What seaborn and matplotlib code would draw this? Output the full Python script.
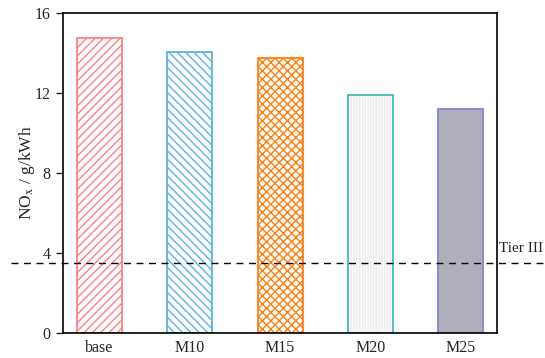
import matplotlib
matplotlib.use("Agg")
import matplotlib.pyplot as plt
import seaborn as sns

# NOx emissions per fuel blend
categories = ["base", "M10", "M15", "M20", "M25"]
nox_values = [14.75, 14.05, 13.75, 11.9, 11.2]
tier_iii_limit = 3.5
y_ticks = [0, 4, 8, 12, 16]

edge_colors = ["#FF8080", "#5AB4DE", "#FF7F0E", "#40BCBC", "#8585CC"]
face_colors = ["white", "white", "white", "#FAFAFA", "#AEAFBA"]
hatches = ["////", "\\\\\\\\", "xxxx", "||||||", ""]
hatch_colors = ["#FF8080", "#5AB4DE", "#FF7F0E", "#ECECEC", "#AEAFBA"]

sns.set_theme(style="ticks")
plt.rcParams["font.family"] = ["Liberation Serif", "DejaVu Serif"]
plt.rcParams["mathtext.fontset"] = "stix"
plt.rcParams["hatch.linewidth"] = 1.0

fig, ax = plt.subplots(figsize=(5.45, 3.58), dpi=100)
fig.subplots_adjust(left=0.116, right=0.912, top=0.964, bottom=0.07)

# hatched fills (hatch drawn in its own colour)
sns.barplot(x=categories, y=nox_values, hue=categories, palette=hatch_colors,
            legend=False, width=0.5, ax=ax, saturation=1)
for patch, fc, h, hc in zip(ax.patches, face_colors, hatches, hatch_colors):
    patch.set_facecolor(fc)
    patch.set_edgecolor(hc)
    patch.set_linewidth(0)
    patch.set_hatch(h)

# coloured outlines on top
n_fill = len(ax.patches)
sns.barplot(x=categories, y=nox_values, hue=categories, palette=edge_colors,
            legend=False, width=0.5, ax=ax, saturation=1, fill=False)
for patch, ec in zip(ax.patches[n_fill:], edge_colors):
    patch.set_facecolor("none")
    patch.set_edgecolor(ec)
    patch.set_linewidth(1.3)

ax.axhline(tier_iii_limit, color="black", linestyle=(0, (5, 4)), linewidth=1.0,
           xmin=-0.12, xmax=1.12, clip_on=False)
ax.text(1.005, (tier_iii_limit + 0.4) / 16, "Tier III", transform=ax.transAxes,
        fontsize=11, va="bottom", ha="left", color="#222222")

ax.set_ylim(0, 16)
ax.set_xlim(-0.4, 4.4)
ax.set_yticks(y_ticks)
ax.set_ylabel(r"NO$_\mathrm{x}$ / g/kWh", fontsize=12.5, labelpad=-2)
ax.set_xlabel("")
ax.tick_params(axis="y", direction="out", length=5, width=1, labelsize=11.5, pad=4)
ax.tick_params(axis="x", length=0, labelsize=11.5, pad=5)
for s in ax.spines.values():
    s.set_visible(True)
    s.set_linewidth(1.2)
    s.set_color("black")

fig.savefig("out.png", dpi=100)
